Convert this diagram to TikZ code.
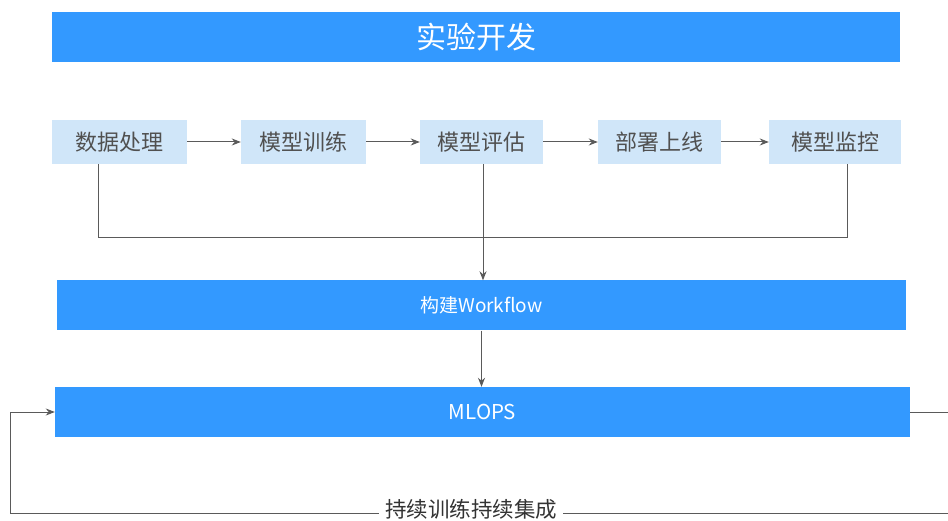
\documentclass[tikz,border=0pt]{standalone}
\usepackage{fontspec}
\setmainfont{Noto Sans CJK SC}
\usetikzlibrary{arrows.meta}
\definecolor{bigblue}{HTML}{3399FF}
\definecolor{lightblue}{HTML}{D0E6F9}
\definecolor{txtgray}{HTML}{505050}
\definecolor{linegray}{HTML}{5A5A5A}
\tikzset{
  bar/.style={fill=bigblue, draw=none, text=white, inner sep=0pt},
  stepbox/.style={fill=lightblue, draw=none, text=txtgray, minimum height=44pt, inner sep=0pt, font=\fontsize{22}{22}\selectfont},
  conn/.style={draw=linegray, line width=1pt},
  arr/.style={conn, -{Stealth[length=9pt,width=7pt]}},
}
\begin{document}
\begin{tikzpicture}[x=1pt,y=-1pt]
\useasboundingbox (0,0) rectangle (948,521);
\node[bar, minimum width=848pt, minimum height=50pt, font=\fontsize{30}{30}\selectfont] (top) at (476,37) {实验开发};
\node[stepbox, minimum width=135pt] (dp) at (119.5,142) {数据处理};
\node[stepbox, minimum width=125pt] (mx) at (303.5,142) {模型训练};
\node[stepbox, minimum width=123pt] (mp) at (481.5,142) {模型评估};
\node[stepbox, minimum width=123pt] (bs) at (659.5,142) {部署上线};
\node[stepbox, minimum width=132pt] (jk) at (835,142) {模型监控};
\node[bar, minimum width=849pt, minimum height=50pt, font=\fontsize{19}{19}\selectfont] (wf) at (481.5,305.5) {构建Workflow};
\node[bar, minimum width=855pt, minimum height=50pt, font=\fontsize{20.5}{20.5}\selectfont] (ml) at (482.5,412) {MLOPS};
\draw[arr] (dp) -- (mx);
\draw[arr] (mx) -- (mp);
\draw[arr] (mp) -- (bs);
\draw[arr] (bs) -- (jk);
\coordinate (a1) at (98,238);
\coordinate (a2) at (847,238);
\draw[conn] ([xshift=-21.5pt]dp.south) -- (a1) -- (a2) -- ([xshift=12pt]jk.south);
\draw[arr] ([xshift=1.5pt]mp.south) -- ([xshift=1.5pt]mp.south |- wf.north);
\draw[arr] (wf.south) -- (wf.south |- ml.north);
\coordinate (r1) at (952,412);
\coordinate (r2) at (952,513);
\coordinate (l1) at (10,513);
\coordinate (l2) at (10,412);
\draw[conn] (ml.east) -- (r1) -- (r2) -- (l1) -- (l2);
\draw[arr] (l2) -- (ml.west);
\node[fill=white, text=black!80, inner xsep=6pt, inner ysep=0pt, font=\fontsize{21.5}{21.5}\selectfont] (lbl) at (471,509.5) {持续训练持续集成};
\end{tikzpicture}
\end{document}
